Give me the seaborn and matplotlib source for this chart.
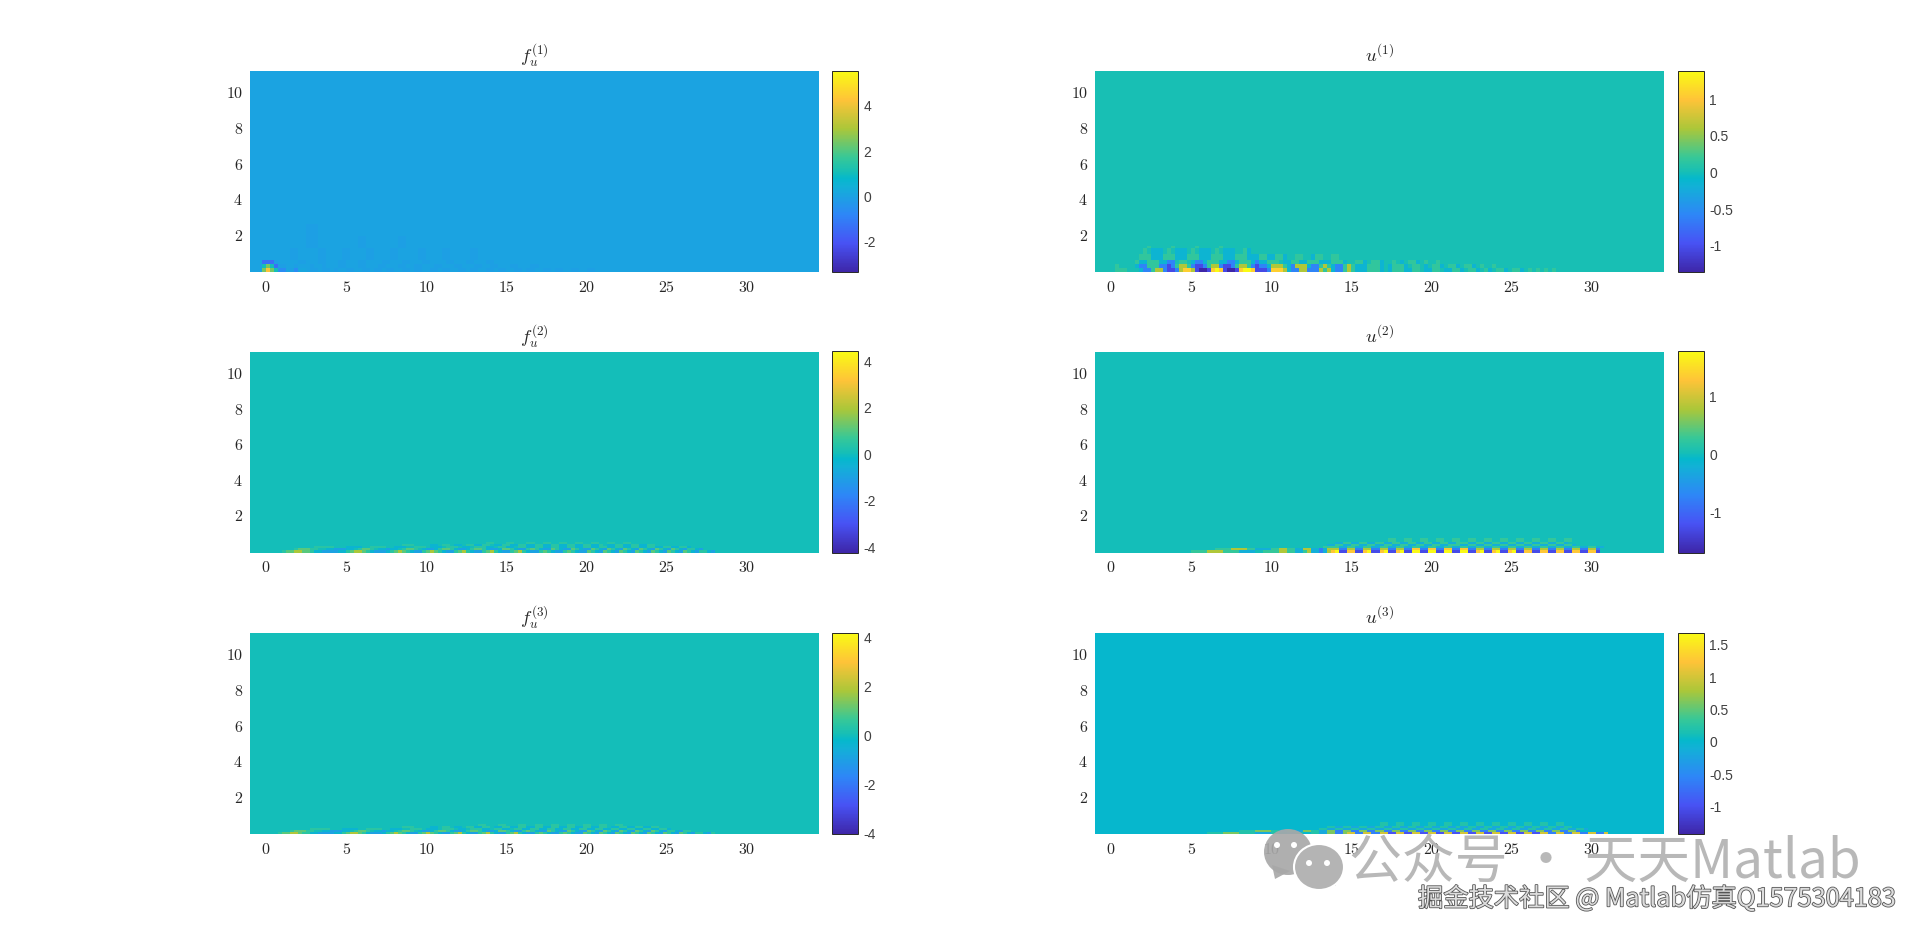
import numpy as np
import matplotlib
matplotlib.use("Agg")
import matplotlib.pyplot as plt
import matplotlib.patheffects as pe
from matplotlib.colors import LinearSegmentedColormap
from matplotlib.patches import Ellipse, Polygon
import seaborn as sns

# Grid of the heatmaps: x -1..34.5, y 0..11.2
X_MIN, X_MAX, N_COLS = -1.0, 34.5, 142
Y_MIN, Y_MAX, N_ROWS = -0.15, 11.15, 100

X_TICKS = [0, 5, 10, 15, 20, 25, 30]
Y_TICKS = [2, 4, 6, 8, 10]

TITLES = ["$f_u^{(1)}$", "$u^{(1)}$", "$f_u^{(2)}$", "$u^{(2)}$", "$f_u^{(3)}$", "$u^{(3)}$"]

# colour limits
LIMITS = [(-3.4, 5.5), (-1.37, 1.37), (-4.26, 4.37), (-1.72, 1.77), (-4.07, 4.15), (-1.44, 1.67)]
CBAR_TICKS = [
    [-2, 0, 2, 4],
    [-1, -0.5, 0, 0.5, 1],
    [-4, -2, 0, 2, 4],
    [-1, 0, 1],
    [-4, -2, 0, 2, 4],
    [-1, -0.5, 0, 0.5, 1, 1.5],
]
CBAR_LABELS = [
    ["-2", "0", "2", "4"],
    ["-1", "-0.5", "0", "0.5", "1"],
    ["-4", "-2", "0", "2", "4"],
    ["-1", "0", "1"],
    ["-4", "-2", "0", "2", "4"],
    ["-1", "-0.5", "0", "0.5", "1", "1.5"],
]

# what each digit of the rows below stands for, 4 is the flat background
F1_LEVELS = [-3.2, -1.4, -0.7, -0.1, 0, 0.1, 1.0, 2.4, 4.2]
U1_LEVELS = [-1.37, -1.05, -0.6, -0.16, 0, 0.16, 0.6, 1.05, 1.37]
F2_LEVELS = [-3.0, -2.0, -1.0, -0.4, 0, 0.4, 1.0, 1.9, 3.0]
U2_LEVELS = [-1.7, -1.3, -0.8, -0.25, 0, 0.25, 0.8, 1.3, 1.75]
F3_LEVELS = [-3.0, -2.0, -1.0, -0.4, 0, 0.4, 1.0, 1.9, 3.0]
U3_LEVELS = [-1.4, -1.0, -0.6, -0.2, 0, 0.2, 0.6, 1.0, 1.6]

# cells read along the bottom of each panel, bottom row first, one digit per column
F1_ROWS = [
    "44478762243255433433434433443343343344334334433433443343344334334433433443343344334433",
    "44467613344344434434443344433444334443344334443344433444334433444334443344",
    "44411134444433444334443344433444433444334443344443344433444334444",
    "44444444443344444334444334444334444334444433444433444443344",
    "44444444444444333444444444433444444443344444444",
    "44444444444444333444444444444",
]
U1_ROWS = [
    "44444555444322566211267761001787100178871112777632266222656322565333555343555335543355433553455345345534553454545454",
    "44444544443225552212566521125662112566521223666532666322565322565333555343555345543455345534553454454",
    "44444444445335553322455432235553322355532335554335533555333555344553455344543455345445",
    "44444444444555333555333555333555333555333553355344554435544554",
    "44444444444454333454333454333454333445344444",
    "44444444444445444445444445444445444",
]
F2_ROWS = [
    "44444444566776653322223356776532223567653225676532256753225675322567532256532256532265326532653265326532653265325532",
    "44444444444566655443322233456654332334566543223566532235665322366532256532265322653226532653265326532653265325532",
    "44444444444444445555544433334455554433344555433345554334555334553345533553355335533553355335533553355335533553",
    "44444444444444444444444444444444444444555444433455433455335543355335533553355335533553354335533553355",
    "4444444444444444444444444444444444444444444444444444444444455444554445544554455445544554455445544",
]
U2_ROWS = [
    "4" * 24 + "5555666655553333" + "44555566" + "55335633" + "236" + "7811771178117811781188118811881188117811781178117711771177117711771",
    "4" * 30 + "55556666553333" + "5566" + "55336633" + "236" + "6622662266226622662277227722772277226622662266226622662266226622662",
    "4" * 56 + "455" + "55335533553355335533553355335533553355335533553355335533553355335533",
    "4" * 58 + "33553355335533553355335533553355" + "533553355335533553355335533553",
    "4" * 60 + "33553355335533553355335533553355" + "53355335533553355335533553",
    "4" * 72 + "455445544554455445544554455445544554455445544554",
]
F3_ROWS = [
    "44444445667765533222233567765322235676532256765322567532256753225675322565322565322653265326532653265326532653255325",
    "44444444445666554433222334566543323345665432235665322356653223665322565322653226532265326532653265326532553255",
    "444444444444444555554443333445555443334455543334555433455533455334553355335533553355335533553355335533553",
    "444444444444444444444444444444444444445554444334554334553355433553355335533553355335533554335533553355",
    "44444444444444444444444444444444444444444444444444444444455444554445544554455445544554455445544",
]
U3_ROWS = [
    "4" * 28 + "5555666655553333" + "55443355" + "44553366" + "226" + "77227722771177117711771177117711771177117711771177227722772277227",
    "4" * 36 + "555566665533" + "55" + "33665533" + "662" + "266226622662266226622662266226622662266226622662266226622662",
    "4" * 56 + "5533553355335533553355335533553355335533553355335533553355335533553",
    "4" * 58 + "55335533553355335533553355335533" + "53355335533553355335533553355",
    "4" * 70 + "455445544554455445544554455445544554455445544554",
]

# how many grid rows each typed row covers
F1_SPANS = [2, 2, 2, 6, 6, 6]
U1_SPANS = [2, 2, 2, 3, 3, 1]
F2_SPANS = [1, 1, 1, 1, 1]
U2_SPANS = [1, 1, 1, 1, 1, 2]
F3_SPANS = [1, 1, 1, 1, 1]
U3_SPANS = [1, 1, 1, 1, 2]

PANEL_ROWS = [F1_ROWS, U1_ROWS, F2_ROWS, U2_ROWS, F3_ROWS, U3_ROWS]
PANEL_LEVELS = [F1_LEVELS, U1_LEVELS, F2_LEVELS, U2_LEVELS, F3_LEVELS, U3_LEVELS]
PANEL_SPANS = [F1_SPANS, U1_SPANS, F2_SPANS, U2_SPANS, F3_SPANS, U3_SPANS]

# parula
PARULA = [
    (0.0, (0.2422, 0.1504, 0.6603)), (1 / 7, (0.2810, 0.3228, 0.9579)), (2 / 7, (0.1786, 0.5289, 0.9682)),
    (3 / 7, (0.0689, 0.6948, 0.8394)), (0.465, (0.02, 0.72, 0.80)), (0.5, (0.09, 0.75, 0.71)),
    (4 / 7, (0.2161, 0.7843, 0.5923)), (5 / 7, (0.6720, 0.7793, 0.2227)),
    (6 / 7, (0.9970, 0.7659, 0.2199)), (1.0, (0.9769, 0.9839, 0.0805)),
]
cmap = LinearSegmentedColormap.from_list("parula", PARULA, N=256)

W, H = 1920, 937


def box(x0, y0, x1, y1):
    # pixels from the top left -> figure fraction
    return [x0 / W, 1 - y1 / H, (x1 - x0) / W, (y1 - y0) / H]


def make_grid(rows, levels, spans):
    grid = np.zeros((N_ROWS, N_COLS))
    i = 0
    for row, span in zip(rows, spans):
        for j, ch in enumerate(row[:N_COLS]):
            grid[i:i + span, j] = levels[int(ch)]
        i += span
    return grid


sns.set_theme(style="white")
plt.rcParams["font.family"] = ["Liberation Sans", "Noto Sans CJK SC"]
plt.rcParams["mathtext.fontset"] = "cm"

fig = plt.figure(figsize=(W / 100, H / 100), dpi=100)

COL_X = [(250, 819, 832, 858), (1095, 1664, 1677.5, 1703.5)]
ROW_Y = [(72, 273), (352.5, 553.5), (634, 835)]

for k in range(6):
    x0, x1, c0, c1 = COL_X[k % 2]
    y0, y1 = ROW_Y[k // 2]
    ax = fig.add_axes(box(x0, y0, x1, y1))
    cax = fig.add_axes(box(c0, y0, c1, y1))
    vmin, vmax = LIMITS[k]
    grid = make_grid(PANEL_ROWS[k], PANEL_LEVELS[k], PANEL_SPANS[k])
    sns.heatmap(grid, ax=ax, cbar_ax=cax, cmap=cmap, vmin=vmin, vmax=vmax,
                xticklabels=False, yticklabels=False,
                cbar_kws={"ticks": CBAR_TICKS[k]})
    ax.invert_yaxis()

    dx = (X_MAX - X_MIN) / N_COLS
    dy = (Y_MAX - Y_MIN) / N_ROWS
    ax.set_xticks([(v - X_MIN) / dx for v in X_TICKS])
    ax.set_xticklabels([f"${v}$" for v in X_TICKS], fontsize=11.5)
    ax.set_yticks([(v - Y_MIN) / dy for v in Y_TICKS])
    ax.set_yticklabels([f"${v}$" for v in Y_TICKS], fontsize=11.5, rotation=0)
    ax.tick_params(length=0, pad=5, colors="#262626")
    ax.set_title(TITLES[k], fontsize=13.5, pad=7, color="#262626")

    cax.set_yticklabels(CBAR_LABELS[k], fontsize=10, color="#404040")
    cax.tick_params(axis="y", direction="in", length=3, width=0.7, color="#262626", pad=4, right=True)
    cbar = ax.collections[0].colorbar
    cbar.outline.set_visible(True)
    cbar.outline.set_linewidth(0.7)
    cbar.outline.set_edgecolor("#262626")

# watermark on top of everything
over = fig.add_axes([0, 0, 1, 1], facecolor="none", zorder=10)
over.set_xlim(0, W)
over.set_ylim(H, 0)
over.axis("off")
GREY = "#b4b4b4"
over.add_patch(Polygon([[1272, 866], [1275, 880], [1290, 872]], fc="#a8a8a8", alpha=0.92, ec="none"))
over.add_patch(Ellipse((1288, 853), 48, 46, fc="#a8a8a8", alpha=0.92, ec="none"))
over.add_patch(Polygon([[1328, 880], [1336, 887], [1335, 874]], fc=GREY, ec="none"))
over.add_patch(Ellipse((1319, 868), 50, 46, fc=GREY, ec="white", lw=1.5))
for ex, ey in [(1277, 846), (1294, 846), (1309, 864), (1327, 864)]:
    over.add_patch(Ellipse((ex, ey), 6, 6, fc="white", ec="none"))
over.text(1349, 863, "公众号 · 天天Matlab", fontsize=38.1, color=GREY, va="center", ha="left",
          family=["Noto Sans CJK SC", "DejaVu Sans"], alpha=0.95)
over.text(1418, 900, "掘金技术社区 @ Matlab仿真Q1575304183", fontsize=18.2, color="#dddddd", va="center", ha="left",
          family=["Noto Sans CJK SC", "DejaVu Sans"],
          path_effects=[pe.withStroke(linewidth=1.2, foreground="#555555")])

fig.savefig("out.png", dpi=100)
